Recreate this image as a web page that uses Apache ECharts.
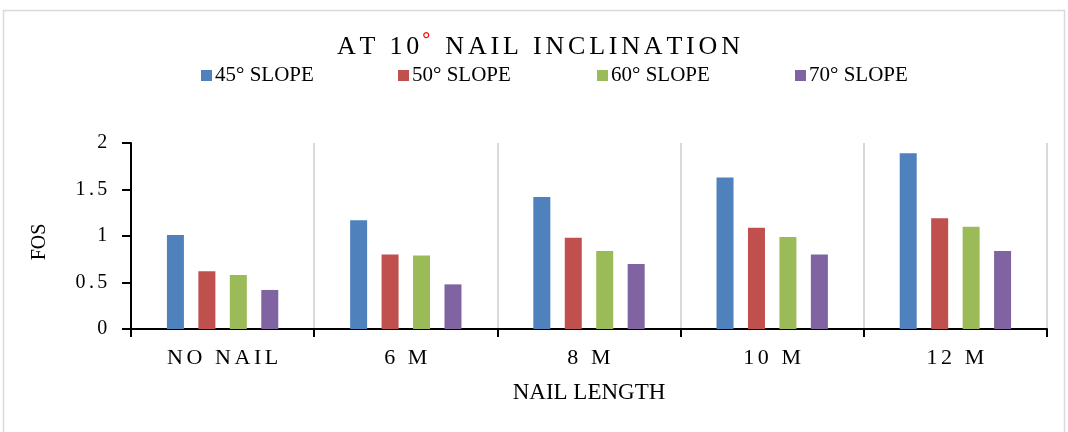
<!DOCTYPE html>
<html>
<head>
<meta charset="utf-8">
<script src="https://cdn.jsdelivr.net/npm/echarts@6/dist/echarts.min.js"></script>
<style>
html,body{margin:0;padding:0;background:#fff;}
#chart{width:1068px;height:432px;}
</style>
</head>
<body>
<div id="chart"></div>
<script>
const categories = ['NO NAIL', '6 M', '8 M', '10 M', '12 M'];
const seriesNames = ['45° SLOPE', '50° SLOPE', '60° SLOPE', '70° SLOPE'];
const slope45 = [1.01, 1.17, 1.42, 1.63, 1.89];
const slope50 = [0.62, 0.80, 0.98, 1.09, 1.19];
const slope60 = [0.58, 0.79, 0.84, 0.99, 1.10];
const slope70 = [0.42, 0.48, 0.70, 0.80, 0.84];
const yTicks = ['0', '0.5', '1', '1.5', '2'];

const colors = ['#4f81bd', '#c0504d', '#9bbb59', '#8064a2'];
const values = [slope45, slope50, slope60, slope70];
const font = '"Liberation Serif", "Times New Roman", serif';
const legendLefts = [196, 393, 592, 790];

// letter-spaced text: one rich token per character
const spaced = (s, style) => s.split('').map(c => '{' + style + '|' + c + '}').join('');

const chart = echarts.init(document.getElementById('chart'));
chart.setOption({
  animation: false,
  backgroundColor: '#fff',
  graphic: [{
    type: 'rect', silent: true, z: -1,
    shape: { x: 3.5, y: 10.5, width: 1061, height: 440 },
    style: { fill: 'none', stroke: '#d9d9d9', lineWidth: 1.5 }
  }],
  title: {
    left: 335, top: 31, padding: 0,
    text: spaced('AT 10', 't') + '{d|°}' + spaced(' NAIL INCLINATION', 't'),
    textStyle: {
      rich: {
        t: { fontFamily: font, fontSize: 26, fontWeight: 'normal', color: '#000', padding: [0, 1.9, 0, 1.9] },
        d: { fontFamily: font, fontSize: 20, color: '#ff0000', padding: [0, 3, 12, 1] }
      }
    }
  },
  legend: seriesNames.map((n, i) => ({
    data: [n], left: legendLefts[i], top: 60,
    icon: 'rect', itemWidth: 11, itemHeight: 11, itemGap: 4,
    textStyle: { fontFamily: font, fontSize: 21, color: '#000', padding: [0, 0, 0, -2] }
  })),
  grid: { left: 131, right: 21, top: 143, bottom: 103, containLabel: false },
  xAxis: {
    type: 'category', data: categories,
    name: 'NAIL LENGTH', nameLocation: 'middle', nameGap: 52,
    nameTextStyle: { fontFamily: font, fontSize: 23, color: '#000' },
    axisLine: { lineStyle: { color: '#000', width: 2 } },
    axisTick: { show: true, interval: 0, length: 8, lineStyle: { color: '#000', width: 2 } },
    axisLabel: {
      interval: 0, margin: 18,
      formatter: v => spaced(v, 'x'),
      rich: { x: { fontFamily: font, fontSize: 22, color: '#000', padding: [0, 1.8, 0, 1.8] } }
    },
    splitLine: { show: true, interval: 0, lineStyle: { color: '#d9d9d9', width: 2 } }
  },
  yAxis: {
    type: 'value', min: 0, max: 2, interval: 0.5,
    name: 'FOS', nameLocation: 'middle', nameGap: 81, nameRotate: 90,
    nameTextStyle: { fontFamily: font, fontSize: 20, color: '#000', padding: [0, 0, 0, -12] },
    axisLine: { show: true, lineStyle: { color: '#000', width: 2 } },
    axisTick: { show: true, length: 9, lineStyle: { color: '#000', width: 2 } },
    axisLabel: {
      margin: 22,
      formatter: v => spaced(yTicks[Math.round(v * 2)], 'y'),
      rich: { y: { fontFamily: font, fontSize: 20, color: '#000', padding: [0, 1.7, 0, 1.7] } }
    },
    splitLine: { show: false }
  },
  series: seriesNames.map((n, i) => ({
    name: n, type: 'bar', data: values[i],
    barWidth: 17, barGap: '85%',
    itemStyle: { color: colors[i] }
  }))
});
</script>
</body>
</html>
